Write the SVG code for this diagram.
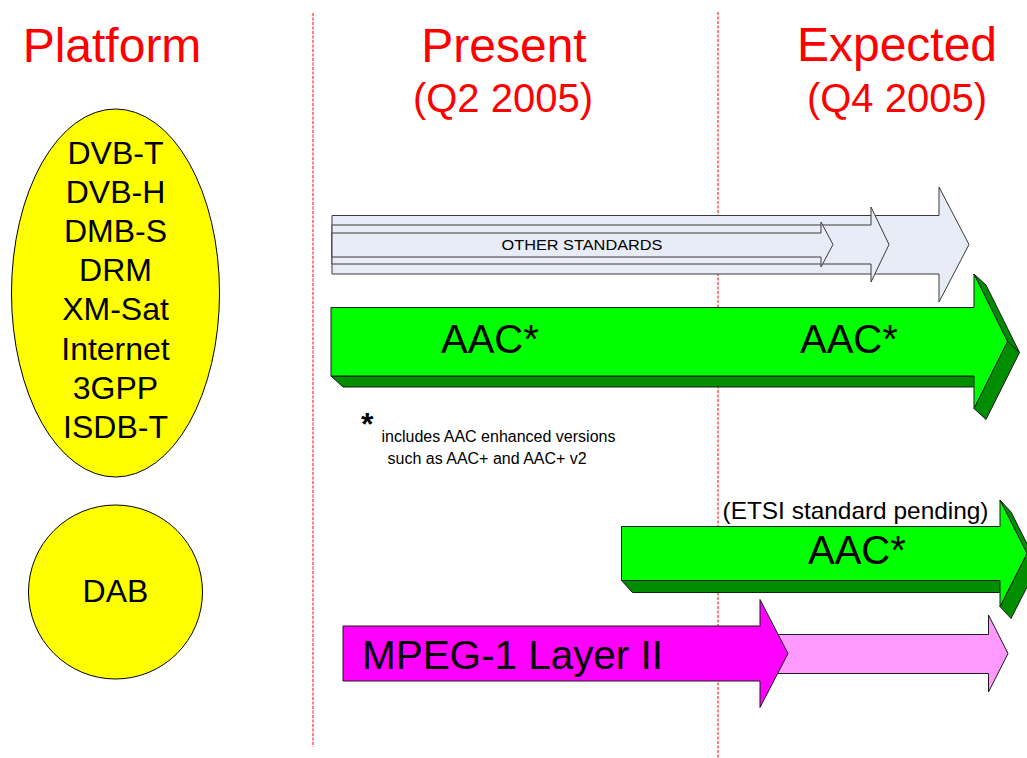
<svg xmlns="http://www.w3.org/2000/svg" width="1027" height="758" viewBox="0 0 1027 758">
  <style>
    .head { font-family: "Liberation Sans", Arial, sans-serif; fill: #FF0000; text-anchor: middle; }
    .lbl { font-family: "Liberation Sans", Arial, sans-serif; fill: #000000; }
    .mid { text-anchor: middle; }
    .divider { stroke: #FF0000; stroke-width: 1; stroke-dasharray: 3 1.5; fill: none; }
    .platform { fill: #FFFF00; stroke: #000000; stroke-width: 1; }
    .other { fill: #E8ECF6; stroke: #3A3A3A; stroke-width: 1; }
    .aac-front { fill: #00FF00; stroke: #1A1A1A; stroke-width: 1; stroke-linejoin: round; }
    .aac-side { fill: #008E00; stroke: #1A1A1A; stroke-width: 1; stroke-linejoin: round; }
    .mpeg { fill: #FF00FF; stroke: #1A1A1A; stroke-width: 1; }
    .mpeg-next { fill: #FF99FF; stroke: #1A1A1A; stroke-width: 1; }
  </style>

  <!-- column headings -->
  <g id="headings">
    <text class="head" x="112" y="62" font-size="48">Platform</text>
    <text class="head" x="504" y="62" font-size="48">Present</text>
    <text class="head" x="503" y="112" font-size="40">(Q2 2005)</text>
    <text class="head" x="897" y="61" font-size="48">Expected</text>
    <text class="head" x="897" y="112" font-size="40">(Q4 2005)</text>
  </g>

  <!-- dashed column dividers -->
  <g id="dividers">
    <line class="divider" x1="313" y1="13" x2="313" y2="747"/>
    <line class="divider" x1="718" y1="12" x2="718" y2="758"/>
  </g>

  <!-- platform groups -->
  <g id="platforms-main">
    <ellipse class="platform" cx="115.5" cy="293" rx="104" ry="184"/>
    <g class="lbl mid" font-size="32">
      <text x="115.5" y="164">DVB-T</text>
      <text x="115.5" y="203">DVB-H</text>
      <text x="115.5" y="242">DMB-S</text>
      <text x="115.5" y="281">DRM</text>
      <text x="115.5" y="320">XM-Sat</text>
      <text x="115.5" y="360">Internet</text>
      <text x="115.5" y="399">3GPP</text>
      <text x="115.5" y="438">ISDB-T</text>
    </g>
  </g>

  <g id="platform-dab">
    <circle class="platform" cx="115.5" cy="592" r="87"/>
    <text class="lbl mid" x="115.5" y="601.5" font-size="32">DAB</text>
  </g>

  <!-- other standards: three nested arrows -->
  <g id="other-standards">
    <polygon class="other" points="332,215.5 939,215.5 939,187 969,244.5 939,302 939,274 332,274"/>
    <polygon class="other" points="332,225 871,225 871,207 889,244.5 871,282 871,264 332,264"/>
    <polygon class="other" points="332,233 821,233 821,222 833,244.5 821,267 821,257 332,257"/>
    <text class="lbl mid" x="582" y="250" font-size="15" textLength="161" lengthAdjust="spacingAndGlyphs">OTHER STANDARDS</text>
  </g>

  <!-- AAC for the main platforms -->
  <g id="aac-main">
    <polygon class="aac-side" points="331,376 974,376 986,387 343,387"/>
    <polygon class="aac-side" points="974,274 1007.5,341.5 1019.5,352.5 986,285"/>
    <polygon class="aac-side" points="1007.5,341.5 974,408.5 986,419.5 1019.5,352.5"/>
    <polygon class="aac-front" points="331,307.5 974,307.5 974,274 1007.5,341.5 974,408.5 974,376 331,376"/>
    <text class="lbl" x="441" y="353" font-size="40">AAC*</text>
    <text class="lbl" x="800" y="353" font-size="40">AAC*</text>
  </g>

  <!-- footnote -->
  <g id="footnote">
    <text class="lbl" x="361" y="435" font-size="32" font-weight="bold">*</text>
    <text class="lbl" x="381.5" y="441.5" font-size="16">includes AAC enhanced versions</text>
    <text class="lbl" x="387.5" y="463.5" font-size="16">such as AAC+ and AAC+ v2</text>
  </g>

  <!-- AAC for DAB -->
  <g id="aac-dab">
    <text class="lbl" x="722.5" y="519" font-size="24" textLength="266" lengthAdjust="spacingAndGlyphs">(ETSI standard pending)</text>
    <polygon class="aac-side" points="621.5,580.5 1000,580.5 1011,592.5 632.5,592.5"/>
    <polygon class="aac-side" points="1000,500 1027,553.5 1038,565.5 1011,512"/>
    <polygon class="aac-side" points="1027,553.5 1000,606.5 1011,618.5 1038,565.5"/>
    <polygon class="aac-front" points="621.5,526.5 1000,526.5 1000,500 1027,553.5 1000,606.5 1000,580.5 621.5,580.5"/>
    <text class="lbl" x="808" y="564" font-size="40">AAC*</text>
  </g>

  <!-- MPEG-1 Layer II for DAB -->
  <g id="mpeg-dab">
    <polygon class="mpeg-next" points="760,634.5 988.5,634.5 988.5,615 1008,653.5 988.5,692 988.5,673.5 760,673.5"/>
    <polygon class="mpeg" points="343,626 760,626 760,599.5 788,653.5 760,707.5 760,681 343,681"/>
    <text class="lbl" x="362" y="669" font-size="40" textLength="301" lengthAdjust="spacingAndGlyphs">MPEG-1 Layer II</text>
  </g>
</svg>
